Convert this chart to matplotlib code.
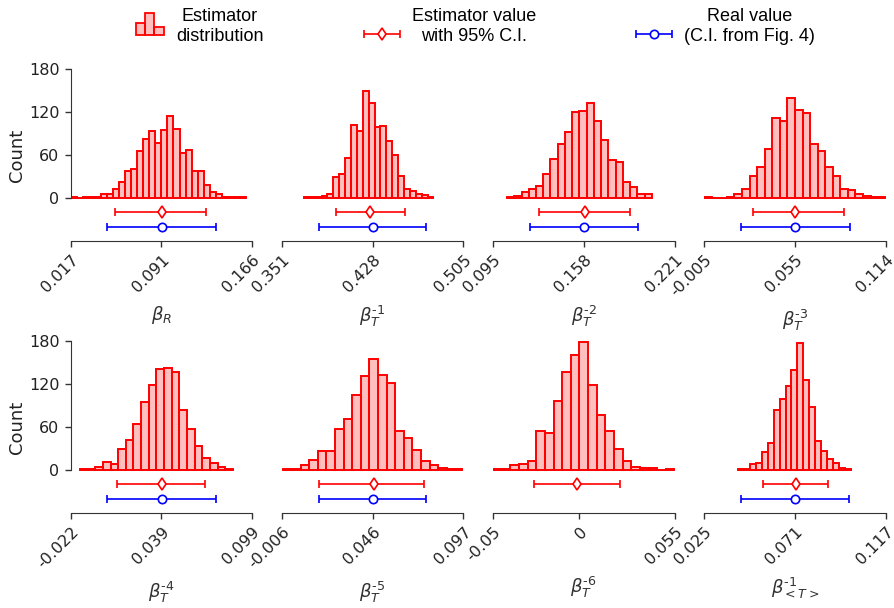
import numpy as np
import matplotlib
matplotlib.use('Agg')
import matplotlib.pyplot as plt
from matplotlib.patches import Rectangle
from matplotlib.legend_handler import HandlerBase, HandlerErrorbar
from matplotlib.container import ErrorbarContainer

# parameter names (x labels)
labels = [r'$\beta_R$', r'$\beta_T^{\text{-1}}$', r'$\beta_T^{\text{-2}}$', r'$\beta_T^{\text{-3}}$',
          r'$\beta_T^{\text{-4}}$', r'$\beta_T^{\text{-5}}$', r'$\beta_T^{\text{-6}}$',
          r'$\beta_{<T>}^{\text{-1}}$']

# x ticks and their labels
xticks = [[0.017, 0.0915, 0.166], [0.351, 0.428, 0.505], [0.095, 0.158, 0.221],
          [-0.005, 0.0545, 0.114], [-0.022, 0.0385, 0.099], [-0.006, 0.0455, 0.097],
          [-0.05, 0.0, 0.055], [0.025, 0.071, 0.117]]
xticklabels = [['0.017', '0.091', '0.166'], ['0.351', '0.428', '0.505'],
               ['0.095', '0.158', '0.221'], ['-0.005', '0.055', '0.114'],
               ['-0.022', '0.039', '0.099'], ['-0.006', '0.046', '0.097'],
               ['-0.05', '0', '0.055'], ['0.025', '0.071', '0.117']]

# histogram range (first / last bin edge) and counts per bin
hist_lo = [0.017, 0.3697, 0.1047, -0.005, -0.0158, -0.0051, -0.05, 0.0419]
hist_hi = [0.161, 0.4796, 0.2052, 0.114, 0.0861, 0.0974, 0.055, 0.0996]
counts = [
    [1, 0, 2, 1, 1, 6, 6, 12, 22, 38, 41, 65, 82, 94, 77, 95, 115, 96, 63, 67,
     38, 38, 18, 9, 5, 1, 1, 1, 1],
    [2, 1, 2, 3, 5, 30, 33, 56, 102, 94, 150, 133, 99, 101, 79, 60, 31, 12, 10,
     5, 4, 1],
    [1, 3, 8, 12, 17, 33, 54, 75, 92, 120, 122, 133, 108, 81, 53, 50, 22, 15, 5, 6],
    [1, 0, 0, 1, 5, 12, 31, 43, 68, 112, 108, 139, 123, 118, 75, 65, 43, 31, 13,
     11, 5, 3, 2, 1],
    [1, 2, 4, 11, 9, 29, 42, 64, 95, 118, 141, 142, 136, 84, 57, 33, 17, 10, 4, 2],
    [1, 1, 7, 14, 26, 26, 57, 71, 104, 131, 155, 132, 121, 54, 45, 28, 13, 7, 3,
     2, 1],
    [1, 2, 7, 9, 12, 54, 51, 96, 136, 160, 178, 118, 77, 54, 29, 13, 4, 3, 3, 0, 1],
    [2, 1, 8, 10, 25, 38, 83, 99, 117, 140, 177, 125, 88, 40, 27, 15, 10, 3, 1],
]

# estimator value with 95% C.I. (low, value, high)
est_lo = [0.0532, 0.3971, 0.1266, 0.0269, 0.0088, 0.0150, -0.0262, 0.0547]
est_val = [0.0919, 0.4259, 0.1586, 0.0548, 0.0388, 0.0464, -0.0015, 0.0713]
est_hi = [0.1284, 0.4558, 0.1899, 0.0865, 0.0674, 0.0747, 0.0237, 0.0875]

# real value with C.I. (None = not available)
real_lo = [0.0472, 0.3824, 0.1203, 0.0190, 0.0025, 0.0150, None, 0.0436]
real_val = [0.0916, 0.4281, 0.1579, 0.0546, 0.0386, 0.0458, None, 0.0711]
real_hi = [0.1364, 0.4736, 0.1955, 0.0904, 0.0749, 0.0760, None, 0.0986]

FILL = (1, 0, 0, 0.25)
AX_COL = '#333333'


class HandlerHist(HandlerBase):
    # small three-bar histogram icon
    def create_artists(self, legend, orig_handle, xdescent, ydescent,
                       width, height, fontsize, trans):
        w = 0.78 * width / 3
        x0 = -xdescent + 0.2 * width
        top = 1.75 * height
        hs = [0.53, 1.0, 0.36]
        arts = []
        for i, h in enumerate(hs):
            r = Rectangle((x0 + i * w, -ydescent - 0.12 * height), w, h * top,
                          facecolor=FILL, edgecolor='red', lw=1.3, transform=trans)
            arts.append(r)
        return arts


class LowErrorbar(HandlerErrorbar):
    # errorbar icon sitting at the second text line
    def create_artists(self, legend, orig_handle, xdescent, ydescent,
                       width, height, fontsize, trans):
        return super().create_artists(legend, orig_handle, xdescent, ydescent + 10,
                                      width, height, fontsize, trans)


fig, axes = plt.subplots(2, 4, figsize=(8.95, 6.08), dpi=100)
plt.subplots_adjust(left=0.079, right=0.9896, top=0.8865, bottom=0.1562,
                    wspace=0.164, hspace=0.58)

for i, ax in enumerate(axes.flat):
    edges = np.linspace(hist_lo[i], hist_hi[i], len(counts[i]) + 1)
    ax.bar(edges[:-1], counts[i], width=np.diff(edges), align='edge',
           facecolor=FILL, edgecolor='red', linewidth=1.4)
    e = ax.errorbar(est_val[i], -20, xerr=[[est_val[i] - est_lo[i]], [est_hi[i] - est_val[i]]],
                    fmt='d', color='red', mfc='white', mec='red', ms=6.5, capsize=3,
                    elinewidth=1.2, mew=1.2)
    if real_val[i] is not None:
        r = ax.errorbar(real_val[i], -40, xerr=[[real_val[i] - real_lo[i]], [real_hi[i] - real_val[i]]],
                        fmt='o', color='blue', mfc='white', mec='blue', ms=6, capsize=3,
                        elinewidth=1.2, mew=1.2)
    ax.set_xlim(xticks[i][0], xticks[i][2])
    ax.set_ylim(-60, 180)
    ax.set_xticks(xticks[i])
    ax.set_xticklabels(xticklabels[i], rotation=45, ha='right', rotation_mode='anchor')
    ax.tick_params(axis='both', labelsize=11.5, length=4.5, width=1, color=AX_COL,
                   labelcolor='#222222')
    ax.spines['top'].set_visible(False)
    ax.spines['right'].set_visible(False)
    ax.spines['bottom'].set_color(AX_COL)
    ax.set_xlabel(labels[i], fontsize=13, labelpad=6, color='#333333')
    if i % 4 == 0:
        ax.spines['left'].set_bounds(0, 180)
        ax.spines['left'].set_color(AX_COL)
        ax.set_yticks([0, 60, 120, 180])
        ax.set_ylabel('Count', fontsize=13, labelpad=2, color='#222222')
    else:
        ax.spines['left'].set_visible(False)
        ax.set_yticks([])

hist_handle = Rectangle((0, 0), 1, 1, facecolor=FILL, edgecolor='red')
leg = fig.legend([hist_handle, e, r],
                 ['Estimator\ndistribution', 'Estimator value\nwith 95% C.I.',
                  'Real value\n(C.I. from Fig. 4)'],
                 handler_map={Rectangle: HandlerHist(),
                              ErrorbarContainer: LowErrorbar(xerr_size=1.0)},
                 loc='upper center', bbox_to_anchor=(0.527, 1.013), ncol=3,
                 frameon=False, columnspacing=5.55, handletextpad=0.65,
                 prop={'family': 'Liberation Sans', 'size': 13})
for t in leg.get_texts():
    t.set_multialignment('center')

fig.savefig('out.png', dpi=100)
